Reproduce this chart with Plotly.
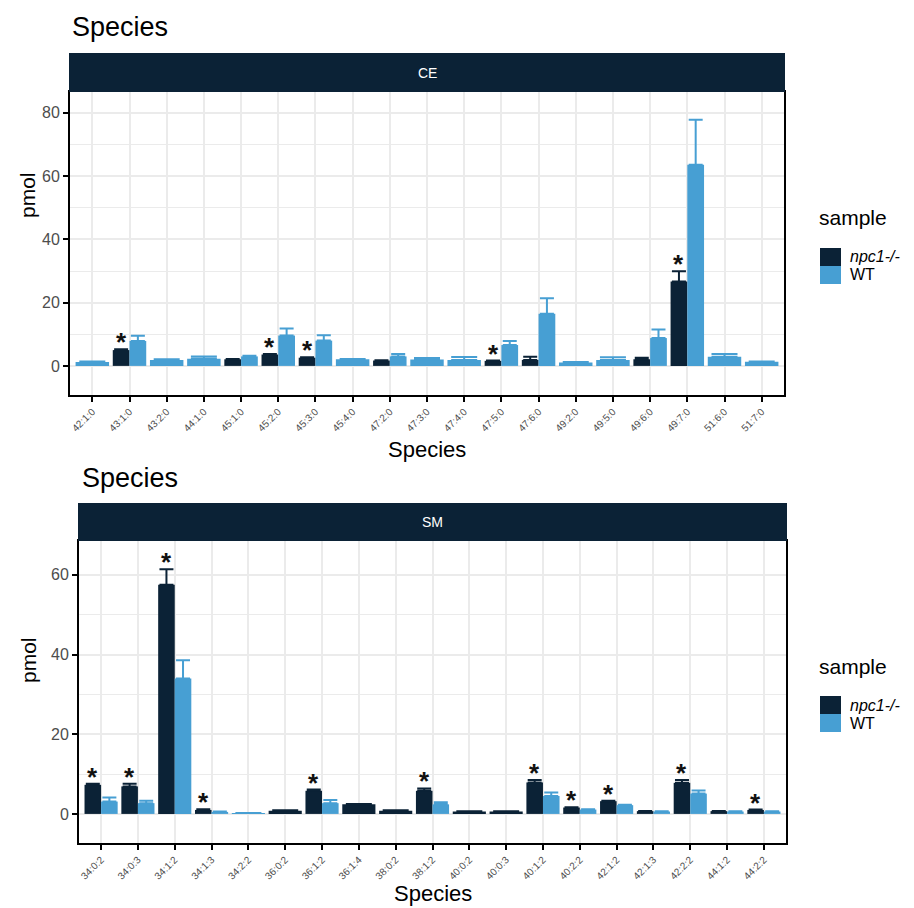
import plotly.graph_objects as go

W, H = 914, 908

# ---- CE species (pmol) ----
ce_species = ["42:1:0", "43:1:0", "43:2:0", "44:1:0", "45:1:0", "45:2:0", "45:3:0",
              "45:4:0", "47:2:0", "47:3:0", "47:4:0", "47:5:0", "47:6:0", "49:2:0",
              "49:5:0", "49:6:0", "49:7:0", "51:6:0", "51:7:0"]
ce_npc = [None, 5.0, None, None, 2.1, 3.6, 2.6, None, 1.7, None, None, 1.6, 1.9, None,
          None, 2.1, 26.7, None, None]
ce_npc_se = [0, 0.3, 0, 0, 0.1, 0.2, 0.1, 0, 0.1, 0, 0, 0.1, 1.0, 0, 0, 0.5, 3.2, 0, 0]
ce_wt = [1.2, 7.9, 1.9, 2.3, 3.0, 9.6, 8.0, 2.1, 3.0, 2.0, 1.9, 6.6, 16.5, 1.1,
         1.9, 8.8, 63.6, 2.9, 1.3]
ce_wt_se = [0.2, 1.6, 0.2, 0.7, 0.2, 2.2, 1.7, 0.1, 0.8, 0.5, 0.9, 1.3, 4.9, 0.1,
            0.8, 2.7, 14.2, 0.9, 0.1]
ce_sig = ["43:1:0", "45:2:0", "45:3:0", "47:5:0", "49:7:0"]

# ---- SM species (pmol) ----
sm_species = ["34:0:2", "34:0:3", "34:1:2", "34:1:3", "34:2:2", "36:0:2", "36:1:2",
              "36:1:4", "38:0:2", "38:1:2", "40:0:2", "40:0:3", "40:1:2", "40:2:2",
              "42:1:2", "42:1:3", "42:2:2", "44:1:2", "44:2:2"]
sm_npc = [7.3, 6.9, 57.5, 1.0, None, 0.8, 5.8, 2.4, 0.8, 5.8, 0.6, 0.6, 7.9, 1.6,
          3.2, 0.7, 7.8, 0.7, 1.0]
sm_npc_se = [0.3, 0.7, 3.9, 0.2, 0, 0.1, 0.3, 0.1, 0.1, 0.6, 0.05, 0.05, 0.6, 0.1,
             0.1, 0.05, 0.7, 0.05, 0.1]
sm_wt = [3.1, 2.7, 34.0, 0.5, 0.2, None, 2.7, None, None, 2.4, None, None, 4.5, 1.1,
         2.2, 0.6, 5.1, 0.6, 0.6]
sm_wt_se = [1.0, 0.6, 4.6, 0.1, 0.05, 0, 0.8, 0, 0, 0.5, 0, 0, 0.9, 0.1,
            0.1, 0.05, 0.8, 0.05, 0.05]
sm_sig = ["34:0:2", "34:0:3", "34:1:2", "34:1:3", "36:1:2", "38:1:2", "40:1:2",
          "40:2:2", "42:1:2", "42:2:2", "44:2:2"]

samples = ["npc1-/-", "WT"]
sample_labels = {"npc1-/-": "<i>npc1-/-</i>", "WT": "WT"}

NPC_COLOR = "#0B2236"
WT_COLOR = "#479FD3"
STRIP_COLOR = "#0B2236"
GRID = "#EBEBEB"
TICK_TXT = "#4D4D4D"
FONT = "Liberation Sans, Arial, sans-serif"
colors = {"npc1-/-": NPC_COLOR, "WT": WT_COLOR}


def fx(p):
    return p / W


def fy(p):
    return 1 - p / H


panels = [
    dict(strip="CE", species=ce_species, npc=ce_npc, npc_se=ce_npc_se, wt=ce_wt,
         wt_se=ce_wt_se, sig=ce_sig, xpx=(70, 784), ypx=(92, 395), strip_px=(53, 92),
         yrange=[-9.2, 86.6], yticks=[0, 20, 40, 60, 80], title_xy=(72, 27),
         pmol_y=195, xtitle_y=450, legend_y=218, xa="x", ya="y"),
    dict(strip="SM", species=sm_species, npc=sm_npc, npc_se=sm_npc_se, wt=sm_wt,
         wt_se=sm_wt_se, sig=sm_sig, xpx=(79, 786), ypx=(541, 843), strip_px=(503, 541),
         yrange=[-7.3, 68.5], yticks=[0, 20, 40, 60], title_xy=(82, 478),
         pmol_y=660, xtitle_y=893, legend_y=666, xa="x2", ya="y2"),
]

fig = go.Figure()
shapes, annotations = [], []

for k, p in enumerate(panels):
    n = len(p["species"])
    vals = {"npc1-/-": (p["npc"], p["npc_se"]), "WT": (p["wt"], p["wt_se"])}
    # dodge: two bars share the 0.9 slot; a lone bar takes the whole slot
    groups = {s: {"paired": [], "single": []} for s in samples}
    for i in range(n):
        present = [s for s in samples if vals[s][0][i] is not None]
        for s in present:
            v, se = vals[s][0][i], vals[s][1][i]
            if len(present) == 2:
                c = i - 0.225 if s == "npc1-/-" else i + 0.225
                groups[s]["paired"].append((c, v, se, 0.45))
            else:
                groups[s]["single"].append((i, v, se, 0.9))

    for s in samples:
        for kind, cap in (("paired", 7), ("single", 13)):
            pts = groups[s][kind]
            if not pts:
                continue
            fig.add_trace(go.Bar(
                x=[q[0] for q in pts], y=[q[1] for q in pts], width=[q[3] for q in pts],
                marker=dict(color=colors[s], line=dict(width=0)),
                error_y=dict(type="data", array=[q[2] for q in pts],
                             arrayminus=[0] * len(pts), symmetric=False,
                             color=colors[s], thickness=2, width=cap),
                name=s, showlegend=False,
                xaxis=p["xa"], yaxis=p["ya"], hoverinfo="skip",
            ))

    # significance marks above the npc1-/- bars
    for name in p["sig"]:
        i = p["species"].index(name)
        v, se = p["npc"][i], p["npc_se"][i]
        c = i - 0.225 if p["wt"][i] is not None else i
        annotations.append(dict(x=c, y=v + se, xref=p["xa"], yref=p["ya"], text="<b>*</b>",
                                showarrow=False, yanchor="bottom", yshift=-10,
                                font=dict(family=FONT, size=26, color="#111111")))

    x0, x1 = p["xpx"]
    y0, y1 = p["ypx"]
    axis_x = dict(domain=[fx(x0), fx(x1)], range=[-0.6, n - 0.4],
                  tickmode="array", tickvals=list(range(n)), ticktext=p["species"],
                  tickangle=-45, tickfont=dict(family=FONT, size=10, color=TICK_TXT),
                  ticks="outside", ticklen=5, tickwidth=2, tickcolor="black",
                  showgrid=True, gridcolor=GRID, gridwidth=1.5, zeroline=False,
                  showline=True, linecolor="black", linewidth=2, mirror=True,
                  anchor=p["ya"], fixedrange=True)
    axis_y = dict(domain=[fy(y1), fy(y0)], range=p["yrange"], tickmode="array",
                  tickvals=p["yticks"], tickfont=dict(family=FONT, size=16, color=TICK_TXT),
                  ticks="outside", ticklen=5, tickwidth=2, tickcolor="black",
                  showgrid=True, gridcolor=GRID, gridwidth=1.5, zeroline=False,
                  minor=dict(dtick=10, tick0=0, showgrid=True, gridcolor=GRID, gridwidth=1.2),
                  showline=True, linecolor="black", linewidth=2, mirror=True,
                  anchor=p["xa"], fixedrange=True)
    suffix = "" if k == 0 else "2"
    fig.update_layout({f"xaxis{suffix}": axis_x, f"yaxis{suffix}": axis_y})

    # facet strip
    s0, s1 = p["strip_px"]
    shapes.append(dict(type="rect", xref="paper", yref="paper", x0=fx(x0 - 1), x1=fx(x1 + 1),
                       y0=fy(s1), y1=fy(s0), fillcolor=STRIP_COLOR, line=dict(width=0),
                       layer="above"))
    annotations.append(dict(x=fx((x0 + x1) / 2), y=fy((s0 + s1) / 2), xref="paper", yref="paper",
                            text=p["strip"], showarrow=False, xanchor="center", yanchor="middle",
                            font=dict(family=FONT, size=14, color="white")))
    # plot title
    tx, ty = p["title_xy"]
    annotations.append(dict(x=fx(tx - 2), y=fy(ty), xref="paper", yref="paper", text="Species",
                            showarrow=False, xanchor="left", yanchor="middle",
                            font=dict(family=FONT, size=27, color="black")))
    # axis titles
    annotations.append(dict(x=fx((x0 + x1) / 2), y=fy(p["xtitle_y"]), xref="paper", yref="paper",
                            text="Species", showarrow=False, xanchor="center", yanchor="middle",
                            font=dict(family=FONT, size=22, color="black")))
    annotations.append(dict(x=fx(28), y=fy(p["pmol_y"]), xref="paper", yref="paper",
                            text="pmol", showarrow=False, textangle=-90, xanchor="center",
                            yanchor="middle", font=dict(family=FONT, size=21, color="black")))

    # fill legend: title plus one key per sample
    ly = p["legend_y"]
    annotations.append(dict(x=fx(817), y=fy(ly), xref="paper", yref="paper", text="sample",
                            showarrow=False, xanchor="left", yanchor="middle",
                            font=dict(family=FONT, size=21, color="black")))
    for j, s in enumerate(samples):
        k0 = ly + 30 + 18 * j
        shapes.append(dict(type="rect", xref="paper", yref="paper", x0=fx(820), x1=fx(841),
                           y0=fy(k0 + 18), y1=fy(k0), fillcolor=colors[s],
                           line=dict(width=0)))
        annotations.append(dict(x=fx(848), y=fy(k0 + 9), xref="paper", yref="paper",
                                text=sample_labels[s], showarrow=False, xanchor="left",
                                yanchor="middle",
                                font=dict(family=FONT, size=16, color="black")))

fig.update_layout(
    width=W, height=H, margin=dict(l=0, r=0, t=0, b=0),
    paper_bgcolor="white", plot_bgcolor="white",
    barmode="overlay", shapes=shapes, annotations=annotations,
    font=dict(family=FONT), showlegend=False,
)

fig.write_html("out.html", config={"displayModeBar": False})
